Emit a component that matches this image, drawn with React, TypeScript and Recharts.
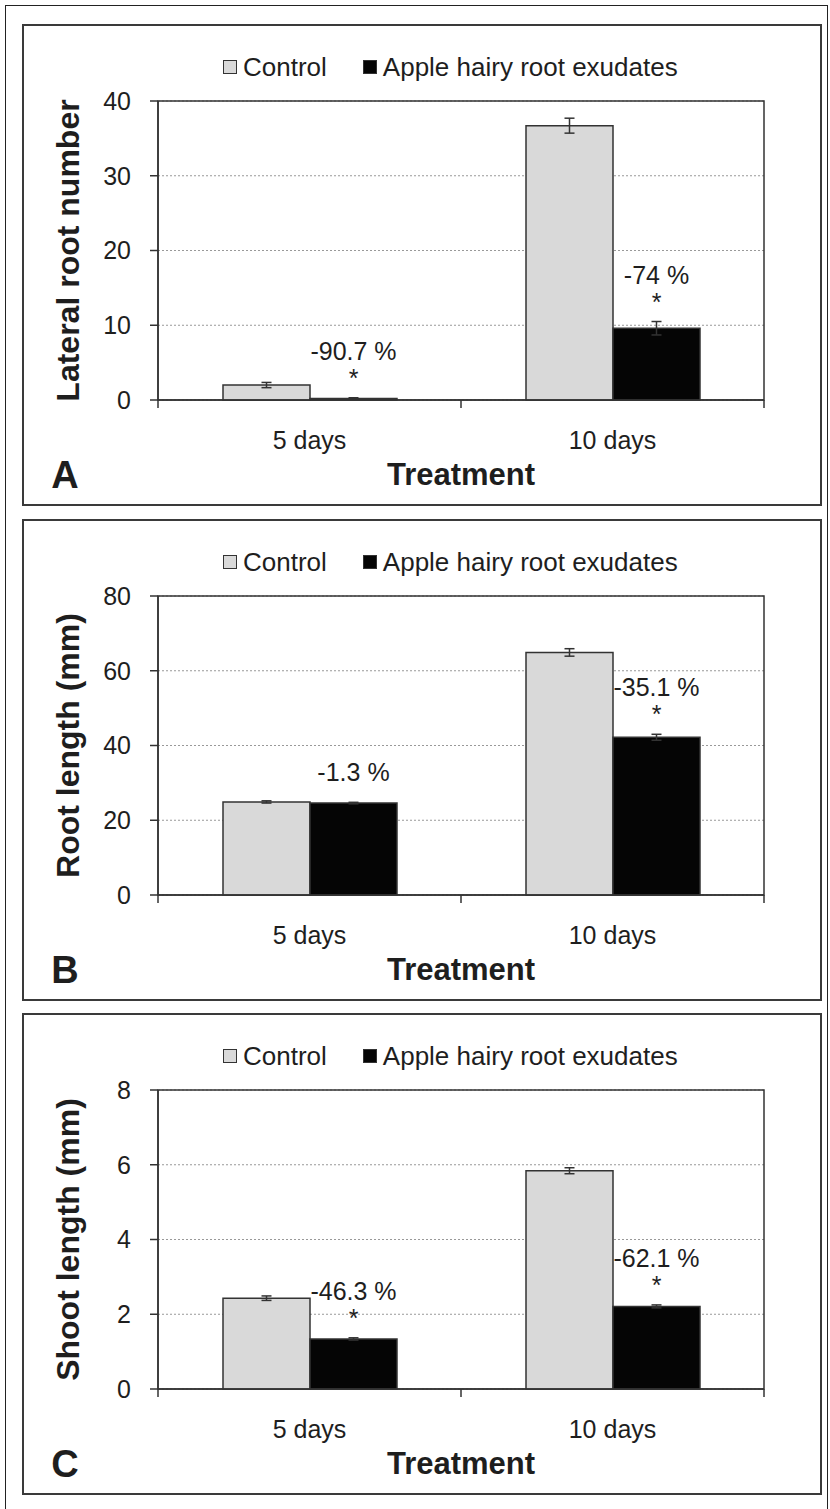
import { BarChart, Bar, XAxis, YAxis, CartesianGrid, ErrorBar, LabelList, Legend, ReferenceArea, Customized } from 'recharts';

const FONT = "'Liberation Sans', Arial, Helvetica, sans-serif";
const INK = '#1e1e1e';
const LINE = '#333';
const CONTROL_FILL = '#d9d9d9';
const EXUDATE_FILL = '#050505';

const days = ['5 days', '10 days'];
const seriesNames = ['Control', 'Apple hairy root exudates'];

// A - lateral root number
const lateralControl = [2.0, 36.7];
const lateralControlSe = [0.35, 1.0];
const lateralExudate = [0.2, 9.6];
const lateralExudateSe = [0.1, 0.9];
const lateralChange = ['-90.7 %', '-74 %'];
const lateralSignif = [true, true];
const lateralTicks = [0, 10, 20, 30, 40];

// B - root length
const rootControl = [24.9, 64.9];
const rootControlSe = [0.3, 1.0];
const rootExudate = [24.6, 42.2];
const rootExudateSe = [0.2, 0.8];
const rootChange = ['-1.3 %', '-35.1 %'];
const rootSignif = [false, true];
const rootTicks = [0, 20, 40, 60, 80];

// C - shoot length
const shootControl = [2.43, 5.84];
const shootControlSe = [0.06, 0.08];
const shootExudate = [1.34, 2.21];
const shootExudateSe = [0.03, 0.04];
const shootChange = ['-46.3 %', '-62.1 %'];
const shootSignif = [true, true];
const shootTicks = [0, 2, 4, 6, 8];

// panel geometry
const W = 800;
const H = 482;
const PLOT_TOP = 77;
const PLOT_H = 299;
const Y_AXIS_W = 136;
const RIGHT = 58;
const X_AXIS_H = H - PLOT_TOP - PLOT_H;

type PanelProps = {
  top: number;
  letter: string;
  yTitle: string;
  ticks: number[];
  control: number[];
  controlSe: number[];
  exudate: number[];
  exudateSe: number[];
  change: string[];
  signif: boolean[];
};

const LegendContent = () => (
  <div
    style={{
      display: 'flex',
      alignItems: 'center',
      height: 30,
      fontFamily: FONT,
      fontSize: 26,
      color: INK,
      whiteSpace: 'nowrap',
    }}
  >
    <span style={{ width: 12, height: 12, background: CONTROL_FILL, border: `1.5px solid ${LINE}`, marginRight: 6 }} />
    <span style={{ marginRight: 36 }}>{seriesNames[0]}</span>
    <span style={{ width: 12, height: 12, background: EXUDATE_FILL, border: `1.5px solid ${LINE}`, marginRight: 6 }} />
    <span>{seriesNames[1]}</span>
  </div>
);

const XTick = (props: any) => {
  const { x, y, payload, index } = props;
  const half = (W - Y_AXIS_W - RIGHT) / days.length / 2;
  return (
    <g>
      {index === 0 && <line x1={x - half} x2={x - half} y1={y} y2={y + 8} stroke={LINE} strokeWidth={1.5} />}
      <line x1={x + half} x2={x + half} y1={y} y2={y + 8} stroke={LINE} strokeWidth={1.5} />
      <text x={x} y={y + 49} textAnchor="middle" fontSize={25} fontFamily={FONT} fill={INK}>
        {payload.value}
      </text>
    </g>
  );
};

function Panel(p: PanelProps) {
  const yMax = p.ticks[p.ticks.length - 1];
  const rows = days.map((d, i) => ({
    day: d,
    control: p.control[i],
    controlSe: p.controlSe[i],
    exudate: p.exudate[i],
    exudateSe: p.exudateSe[i],
  }));

  const renderNote = (props: any) => {
    const vb = props.viewBox && typeof props.viewBox.x === 'number' ? props.viewBox : props;
    const i = typeof props.index === 'number' ? props.index : p.exudate.indexOf(props.value);
    if (i < 0) return null;
    const errTop = vb.y - (p.exudateSe[i] * PLOT_H) / yMax;
    const cx = vb.x + vb.width / 2;
    const textMid = p.signif[i] ? errTop - 47 : errTop - 30;
    return (
      <g fontFamily={FONT} fill={INK}>
        <text x={cx} y={textMid + 9} textAnchor="middle" fontSize={25}>
          {p.change[i]}
        </text>
        {p.signif[i] && (
          <text x={cx} y={errTop - 25 + 14} textAnchor="middle" fontSize={25}>
            *
          </text>
        )}
      </g>
    );
  };

  const renderYTitle = (props: any) => {
    const vb = props.viewBox || {};
    const cy = (vb.y ?? PLOT_TOP) + (vb.height ?? PLOT_H) / 2;
    return (
      <text
        transform={`translate(46,${cy}) rotate(-90)`}
        textAnchor="middle"
        dominantBaseline="central"
        fontSize={32}
        fontWeight="bold"
        fontFamily={FONT}
        fill={INK}
      >
        {p.yTitle}
      </text>
    );
  };

  const renderXTitle = (props: any) => {
    const vb = props.viewBox || {};
    const cx = (vb.x ?? Y_AXIS_W) + (vb.width ?? W - Y_AXIS_W - RIGHT) / 2;
    const y0 = vb.y ?? PLOT_TOP + PLOT_H;
    return (
      <text x={cx} y={y0 + 85} textAnchor="middle" fontSize={31} fontWeight="bold" fontFamily={FONT} fill={INK}>
        Treatment
      </text>
    );
  };

  return (
    <>
      <div
        style={{
          position: 'absolute',
          left: 22,
          top: p.top,
          width: W,
          height: H,
          border: '2px solid #3a3a3a',
          boxSizing: 'border-box',
        }}
      />
      <div style={{ position: 'absolute', left: 22, top: p.top }}>
        <BarChart
          width={W}
          height={H}
          data={rows}
          margin={{ top: PLOT_TOP, right: RIGHT, bottom: 0, left: 0 }}
          barGap={0}
          barSize={87}
        >
          <CartesianGrid vertical={false} stroke="#999" strokeDasharray="2 2" />
          <ReferenceArea y1={0} y2={yMax} fill="none" fillOpacity={0} stroke={LINE} strokeWidth={1.5} ifOverflow="visible" />
          <XAxis
            dataKey="day"
            height={X_AXIS_H}
            interval={0}
            tickSize={0}
            tickMargin={0}
            tickLine={false}
            axisLine={{ stroke: LINE, strokeWidth: 1.5 }}
            tick={XTick}
            label={{ content: renderXTitle }}
          />
          <YAxis
            width={Y_AXIS_W}
            domain={[0, yMax]}
            ticks={p.ticks}
            interval={0}
            tickSize={8}
            tickMargin={19}
            axisLine={{ stroke: LINE, strokeWidth: 1.5 }}
            tickLine={{ stroke: LINE, strokeWidth: 1.5 }}
            tick={{ fill: INK, fontSize: 25, fontFamily: FONT }}
            label={{ content: renderYTitle }}
          />
          <Legend
            layout="horizontal"
            align="center"
            verticalAlign="middle"
            content={LegendContent}
            wrapperStyle={{ top: 28, left: 201, width: 'auto', height: 30 }}
          />
          <Bar dataKey="control" name={seriesNames[0]} fill={CONTROL_FILL} stroke={LINE} strokeWidth={1.5} isAnimationActive={false}>
            <ErrorBar dataKey="controlSe" width={5} stroke={LINE} strokeWidth={1.5} direction="y" />
          </Bar>
          <Bar dataKey="exudate" name={seriesNames[1]} fill={EXUDATE_FILL} stroke={LINE} strokeWidth={1.5} isAnimationActive={false}>
            <ErrorBar dataKey="exudateSe" width={5} stroke={LINE} strokeWidth={1.5} direction="y" />
            <LabelList dataKey="exudate" content={renderNote} />
          </Bar>
          <Customized
            component={() => (
              <text x={43} y={450 + 14} textAnchor="middle" fontSize={38} fontWeight="bold" fontFamily={FONT} fill={INK}>
                {p.letter}
              </text>
            )}
          />
        </BarChart>
      </div>
    </>
  );
}

export default function App() {
  return (
    <div
      style={{
        position: 'absolute',
        left: 0,
        top: 0,
        width: 830,
        height: 1509,
        background: '#fff',
        overflow: 'hidden',
        fontFamily: FONT,
      }}
    >
      <div
        style={{
          position: 'absolute',
          left: 5,
          top: 5,
          width: 823,
          height: 1520,
          border: '1.5px solid #222',
          boxSizing: 'border-box',
        }}
      />
      <Panel
        top={24}
        letter="A"
        yTitle="Lateral root number"
        ticks={lateralTicks}
        control={lateralControl}
        controlSe={lateralControlSe}
        exudate={lateralExudate}
        exudateSe={lateralExudateSe}
        change={lateralChange}
        signif={lateralSignif}
      />
      <Panel
        top={519}
        letter="B"
        yTitle="Root length (mm)"
        ticks={rootTicks}
        control={rootControl}
        controlSe={rootControlSe}
        exudate={rootExudate}
        exudateSe={rootExudateSe}
        change={rootChange}
        signif={rootSignif}
      />
      <Panel
        top={1013}
        letter="C"
        yTitle="Shoot length (mm)"
        ticks={shootTicks}
        control={shootControl}
        controlSe={shootControlSe}
        exudate={shootExudate}
        exudateSe={shootExudateSe}
        change={shootChange}
        signif={shootSignif}
      />
    </div>
  );
}
